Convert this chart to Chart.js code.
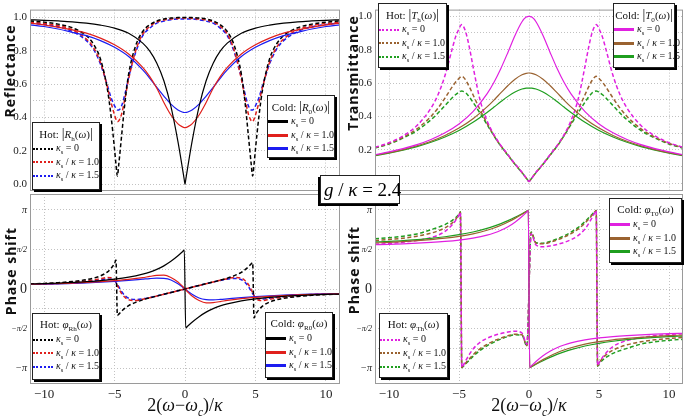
<!DOCTYPE html>
<html>
<head>
<meta charset="utf-8">
<script src="https://cdn.jsdelivr.net/npm/chart.js@4.4.0/dist/chart.umd.min.js"></script>
<style>
  body { margin: 0; background: #fff; }
  #wrap { position: relative; width: 685px; height: 417px; overflow: hidden; background: #fff; }
  #wrap canvas { position: absolute; left: 0; top: 0; }
  .ytitle { position: absolute; font-family: 'Open Sans', sans-serif; font-weight: bold; font-size: 14px;
            letter-spacing: 1px; color: #111; white-space: nowrap; transform: translate(-50%, -50%) rotate(-90deg); }
  .xtitle { position: absolute; font-family: 'Liberation Serif', serif; font-size: 18px; color: #111;
            white-space: nowrap; transform: translate(-50%, -50%); }
  .leg { position: absolute; box-sizing: border-box; background: #fff; border: 1px solid #222;
         box-shadow: 2px 2px 0 #000; font-family: 'Liberation Serif', serif; font-size: 10px; color: #111; }
  .leg .t { text-align: center; font-size: 11px; height: 17px; line-height: 17px; margin-top: 2px; white-space: nowrap; }
  .leg .t .bar { font-size: 14px; font-weight: 300; }
  .leg .r { display: flex; align-items: center; height: 13.5px; white-space: nowrap; }
  .leg .s { width: 20px; height: 0; border-top: 3px solid; margin-right: 3px; flex: none; }
  .leg .s.dot { border-top: 2.5px dotted; }
  .leg sub, .gbox sub, .xtitle sub { font-size: 65%; }
  .gbox { position: absolute; left: 320px; top: 175px; width: 80px; height: 29px; box-sizing: border-box;
          background: #fff; border: 1px solid #222; box-shadow: -2px 2px 0 #000;
          font-family: 'Liberation Serif', serif; font-size: 19px; line-height: 27px; padding-left: 3px; white-space: nowrap; }
</style>
</head>
<body>
<div id="wrap">
  <canvas id="cTL" width="685" height="417"></canvas>
  <canvas id="cTR" width="685" height="417"></canvas>
  <canvas id="cBL" width="685" height="417"></canvas>
  <canvas id="cBR" width="685" height="417"></canvas>

  <div class="ytitle" style="left:9px;top:71px">Reflectance</div>
  <div class="ytitle" style="left:352px;top:73px">Transmittance</div>
  <div class="ytitle" style="left:10px;top:271px">Phase shift</div>
  <div class="ytitle" style="left:353px;top:270px">Phase shift</div>
  <div class="xtitle" style="left:185px;top:407px">2(<i>ω</i>−<i>ω</i><sub><i>c</i></sub>)/<i>κ</i></div>
  <div class="xtitle" style="left:529px;top:407px">2(<i>ω</i>−<i>ω</i><sub><i>c</i></sub>)/<i>κ</i></div>
  <div class="gbox"><i>g</i> / <i>κ</i> = 2.4</div>
</div>

<script>
// x grids (shared by the curves of one family)
const X_COLD = [-11,-10,-9,-8,-7,-6,-5,-4,-3,-2.5,-2,-1.5,-1,-0.5,-0.2,-0.05,0,0.05,0.2,0.5,1,1.5,2,2.5,3,4,5,6,7,8,9,10,11];
const X_HOT = [-11,-10,-9,-8,-7,-6.5,-6,-5.5,-5.25,-5,-4.9,-4.8,-4.7,-4.5,-4.25,-4,-3.5,-3,-2.5,-2,-1.5,-1,-0.5,-0.15,0,
               0.15,0.5,1,1.5,2,2.5,3,3.5,4,4.25,4.5,4.7,4.8,4.9,5,5.25,5.5,6,6.5,7,8,9,10,11];

// Reflectance, cold |R0|
const R0_K0  = [0.985,0.982,0.978,0.973,0.965,0.953,0.935,0.904,0.845,0.797,0.725,0.62,0.466,0.255,0.105,0.026,0,0.026,0.105,0.255,0.466,0.62,0.725,0.797,0.845,0.904,0.935,0.953,0.965,0.973,0.978,0.982,0.985];
const R0_K10 = [0.965,0.955,0.94,0.925,0.905,0.875,0.835,0.78,0.70,0.645,0.575,0.49,0.415,0.362,0.345,0.34,0.34,0.34,0.345,0.362,0.415,0.49,0.575,0.645,0.70,0.78,0.835,0.875,0.905,0.925,0.94,0.955,0.965];
const R0_K15 = [0.955,0.945,0.93,0.91,0.89,0.86,0.82,0.765,0.685,0.635,0.58,0.528,0.48,0.445,0.433,0.43,0.43,0.43,0.433,0.445,0.48,0.528,0.58,0.635,0.685,0.765,0.82,0.86,0.89,0.91,0.93,0.945,0.955];
// Reflectance, hot |Rh|
const RH_K0  = [0.978,0.971,0.959,0.937,0.89,0.84,0.75,0.565,0.41,0.21,0.12,0.05,0.12,0.29,0.5,0.66,0.83,0.915,0.955,0.978,0.99,0.995,0.998,0.999,0.999,
                0.999,0.998,0.995,0.99,0.978,0.955,0.915,0.83,0.66,0.5,0.29,0.12,0.05,0.12,0.21,0.41,0.565,0.75,0.84,0.89,0.937,0.959,0.971,0.978];
const RH_K10 = [0.97,0.963,0.95,0.925,0.87,0.82,0.73,0.58,0.49,0.415,0.39,0.375,0.38,0.42,0.52,0.63,0.8,0.9,0.945,0.972,0.983,0.99,0.993,0.995,0.995,
                0.995,0.993,0.99,0.983,0.972,0.945,0.9,0.8,0.63,0.52,0.42,0.38,0.375,0.39,0.415,0.49,0.58,0.73,0.82,0.87,0.925,0.95,0.963,0.97];
const RH_K15 = [0.965,0.957,0.943,0.915,0.86,0.81,0.72,0.59,0.52,0.47,0.455,0.445,0.445,0.47,0.545,0.64,0.79,0.89,0.935,0.965,0.977,0.985,0.99,0.99,0.99,
                0.99,0.99,0.985,0.977,0.965,0.935,0.89,0.79,0.64,0.545,0.47,0.445,0.445,0.455,0.47,0.52,0.59,0.72,0.81,0.86,0.915,0.943,0.957,0.965];

// Transmittance, cold |T0|
const T0_K0  = [0.17,0.187,0.207,0.231,0.262,0.302,0.355,0.429,0.535,0.605,0.689,0.785,0.885,0.967,0.995,0.999,1,0.999,0.995,0.967,0.885,0.785,0.689,0.605,0.535,0.429,0.355,0.302,0.262,0.231,0.207,0.187,0.17];
const T0_K10 = [0.167,0.183,0.201,0.224,0.251,0.286,0.33,0.386,0.457,0.498,0.542,0.585,0.623,0.65,0.658,0.66,0.66,0.66,0.658,0.65,0.623,0.585,0.542,0.498,0.457,0.386,0.33,0.286,0.251,0.224,0.201,0.183,0.167];
const T0_K15 = [0.165,0.18,0.198,0.219,0.245,0.277,0.316,0.365,0.424,0.456,0.489,0.52,0.546,0.564,0.569,0.57,0.57,0.57,0.569,0.564,0.546,0.52,0.489,0.456,0.424,0.365,0.316,0.277,0.245,0.219,0.198,0.18,0.165];
// Transmittance, hot |Th|
const TH_K0  = [0.215,0.242,0.283,0.345,0.45,0.53,0.645,0.8,0.875,0.925,0.942,0.95,0.942,0.9,0.81,0.7,0.5,0.375,0.29,0.225,0.17,0.115,0.065,0.025,0.01,
                0.025,0.065,0.115,0.17,0.225,0.29,0.375,0.5,0.7,0.81,0.9,0.942,0.95,0.942,0.925,0.875,0.8,0.645,0.53,0.45,0.345,0.283,0.242,0.215];
const TH_K10 = [0.212,0.238,0.275,0.325,0.4,0.45,0.51,0.575,0.605,0.628,0.636,0.64,0.636,0.615,0.575,0.53,0.44,0.36,0.285,0.222,0.168,0.114,0.064,0.025,0.01,
                0.025,0.064,0.114,0.168,0.222,0.285,0.36,0.44,0.53,0.575,0.615,0.636,0.64,0.636,0.628,0.605,0.575,0.51,0.45,0.4,0.325,0.275,0.238,0.212];
const TH_K15 = [0.21,0.235,0.27,0.315,0.38,0.42,0.465,0.51,0.53,0.545,0.55,0.552,0.55,0.54,0.515,0.485,0.42,0.352,0.283,0.221,0.167,0.113,0.063,0.025,0.01,
                0.025,0.063,0.113,0.167,0.221,0.283,0.352,0.42,0.485,0.515,0.54,0.55,0.552,0.55,0.545,0.53,0.51,0.465,0.42,0.38,0.315,0.27,0.235,0.21];

// Reflection phase (rad), cold
const PR0_K0  = [0.2,0.215,0.235,0.26,0.29,0.335,0.39,0.47,0.59,0.67,0.78,0.92,1.1,1.32,1.47,1.545,null,-1.545,-1.47,-1.32,-1.1,-0.92,-0.78,-0.67,-0.59,-0.47,-0.39,-0.335,-0.29,-0.26,-0.235,-0.215,-0.2];
const PR0_K10 = [0.19,0.2,0.215,0.235,0.26,0.29,0.33,0.38,0.45,0.5,0.54,0.55,0.46,0.28,0.12,0.03,0,-0.03,-0.12,-0.28,-0.46,-0.55,-0.54,-0.5,-0.45,-0.38,-0.33,-0.29,-0.26,-0.235,-0.215,-0.2,-0.19];
const PR0_K15 = [0.18,0.19,0.2,0.22,0.24,0.27,0.3,0.34,0.39,0.415,0.43,0.42,0.36,0.21,0.09,0.022,0,-0.022,-0.09,-0.21,-0.36,-0.42,-0.43,-0.415,-0.39,-0.34,-0.3,-0.27,-0.24,-0.22,-0.2,-0.19,-0.18];
// Reflection phase (rad), hot
const PRH_K0  = [0.2,0.22,0.25,0.3,0.37,0.43,0.52,0.68,0.82,1.02,1.15,-1.05,-1.0,-0.88,-0.76,-0.66,-0.53,-0.43,-0.35,-0.28,-0.21,-0.14,-0.07,-0.02,0,
                 0.02,0.07,0.14,0.21,0.28,0.35,0.43,0.53,0.66,0.76,0.88,1.0,1.05,-1.15,-1.02,-0.82,-0.68,-0.52,-0.43,-0.37,-0.3,-0.25,-0.22,-0.2];
const PRH_K10 = [0.19,0.21,0.23,0.27,0.32,0.36,0.41,0.46,0.45,0.36,0.27,0.15,0.03,-0.18,-0.34,-0.43,-0.46,-0.41,-0.35,-0.28,-0.21,-0.14,-0.07,-0.02,0,
                 0.02,0.07,0.14,0.21,0.28,0.35,0.41,0.46,0.43,0.34,0.18,-0.03,-0.15,-0.27,-0.36,-0.45,-0.46,-0.41,-0.36,-0.32,-0.27,-0.23,-0.21,-0.19];
const PRH_K15 = [0.185,0.2,0.22,0.255,0.3,0.33,0.37,0.4,0.39,0.33,0.26,0.18,0.09,-0.1,-0.27,-0.37,-0.42,-0.39,-0.34,-0.28,-0.21,-0.14,-0.07,-0.02,0,
                 0.02,0.07,0.14,0.21,0.28,0.34,0.39,0.42,0.37,0.27,0.1,-0.09,-0.18,-0.26,-0.33,-0.39,-0.4,-0.37,-0.33,-0.3,-0.255,-0.22,-0.2,-0.185];

// Transmission phase (rad), cold
const PT0_K0  = [1.76,1.775,1.795,1.82,1.85,1.89,1.945,2.025,2.14,2.225,2.335,2.475,2.656,2.884,3.037,3.115,null,-3.115,-3.037,-2.884,-2.656,-2.475,-2.335,-2.225,-2.14,-2.025,-1.945,-1.89,-1.85,-1.82,-1.795,-1.775,-1.76];
const PT0_K10 = [1.83,1.855,1.885,1.92,1.965,2.02,2.095,2.195,2.336,2.427,2.535,2.662,2.808,2.97,3.072,3.124,null,-3.124,-3.072,-2.97,-2.808,-2.662,-2.535,-2.427,-2.336,-2.195,-2.095,-2.02,-1.965,-1.92,-1.885,-1.855,-1.83];
const PT0_K15 = [1.87,1.895,1.925,1.966,2.015,2.078,2.159,2.265,2.409,2.498,2.601,2.719,2.85,2.993,3.082,3.127,null,-3.127,-3.082,-2.993,-2.85,-2.719,-2.601,-2.498,-2.409,-2.265,-2.159,-2.078,-2.015,-1.966,-1.925,-1.895,-1.87];
// Transmission phase (rad), hot
const PTH_K0  = [1.78,1.81,1.86,1.93,2.045,2.14,2.29,2.54,2.72,2.94,3.05,-3.12,-3.04,-2.83,-2.59,-2.39,-2.12,-1.96,-1.85,-1.77,-1.71,-1.68,-1.75,-2.2,null,
                 2.2,1.75,1.68,1.71,1.77,1.85,1.96,2.12,2.39,2.59,2.83,3.04,3.12,-3.05,-2.94,-2.72,-2.54,-2.29,-2.14,-2.045,-1.93,-1.86,-1.81,-1.78];
const PTH_K10 = [1.93,1.97,2.02,2.1,2.22,2.31,2.43,2.62,2.76,2.95,3.05,-3.12,-3.07,-2.93,-2.77,-2.62,-2.38,-2.2,-2.06,-1.95,-1.86,-1.8,-1.82,-2.25,null,
                 2.25,1.82,1.8,1.86,1.95,2.06,2.2,2.38,2.62,2.77,2.93,3.07,3.12,-3.05,-2.95,-2.76,-2.62,-2.43,-2.31,-2.22,-2.1,-2.02,-1.97,-1.93];
const PTH_K15 = [2.0,2.04,2.1,2.19,2.36,2.45,2.56,2.72,2.83,2.98,3.07,-3.12,-3.08,-2.96,-2.82,-2.68,-2.44,-2.26,-2.11,-1.99,-1.89,-1.82,-1.84,-2.27,null,
                 2.27,1.84,1.82,1.89,1.99,2.11,2.26,2.44,2.68,2.82,2.96,3.08,3.12,-3.07,-2.98,-2.83,-2.72,-2.56,-2.45,-2.36,-2.19,-2.1,-2.04,-2.0];

// tick positions and labels
const X_TICKS = [-10, -5, 0, 5, 10];
const MAG_TICKS = [0, 0.1, 0.2, 0.3, 0.4, 0.5, 0.6, 0.7, 0.8, 0.9, 1.0];
const MAG_LABELS = ['0.0', '', '0.2', '', '0.4', '', '0.6', '', '0.8', '', '1.0'];
const PHASE_TICKS = [-3.1416, -2.3562, -1.5708, -0.7854, 0, 0.7854, 1.5708, 2.3562, 3.1416];
const PHASE_LABELS = ['−π', '', '−π/2', '', '0', '', 'π/2', '', 'π'];
const SERIES_NAMES = ['<i>κ</i><sub>s</sub> = 0', '<i>κ</i><sub>s</sub> / <i>κ</i> = 1.0', '<i>κ</i><sub>s</sub> / <i>κ</i> = 1.5'];

const C = {
  black: '#000000', red: '#e0201c', blue: '#1c1cf0',
  magenta: '#e020e0', brown: '#9a6230', green: '#1f9e1f'
};

const pts = (xs, ys) => xs.map((x, i) => ({ x: x, y: ys[i] }));

function cold(xs, ys, color) {
  return { data: pts(xs, ys), borderColor: color, borderWidth: 1.2, spanGaps: true };
}
function hot(xs, ys, color) {
  return { data: pts(xs, ys), borderColor: color, borderWidth: 1.5, borderDash: [4, 2.5], spanGaps: true };
}

// gray frame around the plot area
const framePlugin = {
  id: 'frame',
  afterDraw(chart) {
    const { ctx, chartArea: a } = chart;
    ctx.save();
    ctx.strokeStyle = '#9a9a9a';
    ctx.lineWidth = 1;
    ctx.strokeRect(a.left + 0.5, a.top + 0.5, a.right - a.left - 1, a.bottom - a.top - 1);
    ctx.restore();
  }
};

function tickFont(isPhase) {
  return (ctx) => {
    if (!isPhase) return { family: 'Liberation Serif', size: 11 };
    const v = ctx.tick ? ctx.tick.value : 0;
    if (v === 0) return { family: 'Liberation Serif', size: 14 };
    if (Math.abs(Math.abs(v) - 1.5708) < 0.01) return { family: 'Liberation Serif', size: 8, style: 'italic' };
    return { family: 'Liberation Serif', size: 10, style: 'italic' };
  };
}

function makePanel(id, box, ymin, ymax, isPhase, showX, datasets) {
  const axisW = 30;
  const xH = showX ? 20 : 0;
  const yTicks = isPhase ? PHASE_TICKS : MAG_TICKS;
  const yLabels = isPhase ? PHASE_LABELS : MAG_LABELS;
  const gridCol = '#c2c2c2';
  new Chart(document.getElementById(id), {
    type: 'line',
    data: { datasets: datasets },
    options: {
      responsive: false,
      animation: false,
      devicePixelRatio: 1,
      layout: { padding: { left: box.left - axisW, top: box.top, right: 685 - box.right, bottom: 417 - box.bottom - xH } },
      elements: { point: { radius: 0 }, line: { cubicInterpolationMode: 'monotone', fill: false } },
      plugins: { legend: { display: false }, tooltip: { enabled: false } },
      scales: {
        x: {
          type: 'linear', min: -11, max: 11,
          afterFit: (s) => { s.height = xH; },
          afterBuildTicks: (s) => { s.ticks = X_TICKS.map(v => ({ value: v })); },
          ticks: {
            display: showX, autoSkip: false, maxRotation: 0, padding: 3, color: '#222',
            font: { family: 'Liberation Serif', size: 13 },
            callback: (v) => (v < 0 ? '−' + (-v) : '' + v)
          },
          grid: { color: gridCol, lineWidth: 1, drawTicks: false },
          border: { display: false, dash: [1, 2] }
        },
        y: {
          type: 'linear', min: ymin, max: ymax,
          afterFit: (s) => { s.width = axisW; },
          afterBuildTicks: (s) => { s.ticks = yTicks.map(v => ({ value: v })); },
          ticks: {
            autoSkip: false, padding: 3, color: '#222',
            font: tickFont(isPhase),
            callback: (v, i) => yLabels[i]
          },
          grid: { color: gridCol, lineWidth: 1, drawTicks: false },
          border: { display: false, dash: [1, 2] }
        }
      }
    },
    plugins: [framePlugin]
  });
}

makePanel('cTL', { left: 30, top: 2, right: 340, bottom: 191 }, -0.04, 1.046, false, false, [
  cold(X_COLD, R0_K0, C.black), cold(X_COLD, R0_K10, C.red), cold(X_COLD, R0_K15, C.blue),
  hot(X_HOT, RH_K0, C.black), hot(X_HOT, RH_K10, C.red), hot(X_HOT, RH_K15, C.blue)
]);
makePanel('cTR', { left: 375, top: 2, right: 683, bottom: 191 }, -0.047, 1.04, false, false, [
  cold(X_COLD, T0_K0, C.magenta), cold(X_COLD, T0_K10, C.brown), cold(X_COLD, T0_K15, C.green),
  hot(X_HOT, TH_K0, C.magenta), hot(X_HOT, TH_K10, C.brown), hot(X_HOT, TH_K15, C.green)
]);
makePanel('cBL', { left: 30, top: 194, right: 340, bottom: 384 }, -3.777, 3.777, true, true, [
  cold(X_COLD, PR0_K0, C.black), cold(X_COLD, PR0_K10, C.red), cold(X_COLD, PR0_K15, C.blue),
  hot(X_HOT, PRH_K0, C.black), hot(X_HOT, PRH_K10, C.red), hot(X_HOT, PRH_K15, C.blue)
]);
makePanel('cBR', { left: 375, top: 194, right: 683, bottom: 384 }, -3.777, 3.777, true, true, [
  cold(X_COLD, PT0_K0, C.magenta), cold(X_COLD, PT0_K10, C.brown), cold(X_COLD, PT0_K15, C.green),
  hot(X_HOT, PTH_K0, C.magenta), hot(X_HOT, PTH_K10, C.brown), hot(X_HOT, PTH_K15, C.green)
]);

// legend boxes
const LEGENDS = [
  { x: 32, y: 122, w: 68, h: 68, title: 'Hot: <span class="bar">|</span><i>R</i><sub>h</sub>(<i>ω</i>)<span class="bar">|</span>', colors: [C.black, C.red, C.blue], dot: true },
  { x: 267, y: 95, w: 68, h: 63, title: 'Cold: <span class="bar">|</span><i>R</i><sub>0</sub>(<i>ω</i>)<span class="bar">|</span>', colors: [C.black, C.red, C.blue], dot: false },
  { x: 378, y: 3, w: 69, h: 65, title: 'Hot: <span class="bar">|</span><i>T</i><sub>h</sub>(<i>ω</i>)<span class="bar">|</span>', colors: [C.magenta, C.brown, C.green], dot: true },
  { x: 613, y: 3, w: 62, h: 65, title: 'Cold: <span class="bar">|</span><i>T</i><sub>0</sub>(<i>ω</i>)<span class="bar">|</span>', colors: [C.magenta, C.brown, C.green], dot: false },
  { x: 32, y: 313, w: 68, h: 67, title: 'Hot: <i>φ</i><sub>Rh</sub>(<i>ω</i>)', colors: [C.black, C.red, C.blue], dot: true },
  { x: 265, y: 312, w: 68, h: 66, title: 'Cold: <i>φ</i><sub>R0</sub>(<i>ω</i>)', colors: [C.black, C.red, C.blue], dot: false },
  { x: 609, y: 198, w: 73, h: 65, title: 'Cold: <i>φ</i><sub>T0</sub>(<i>ω</i>)', colors: [C.magenta, C.brown, C.green], dot: false },
  { x: 379, y: 313, w: 69, h: 65, title: 'Hot: <i>φ</i><sub>Th</sub>(<i>ω</i>)', colors: [C.magenta, C.brown, C.green], dot: true }
];

const wrap = document.getElementById('wrap');
LEGENDS.forEach(l => {
  const d = document.createElement('div');
  d.className = 'leg';
  d.style.left = l.x + 'px';
  d.style.top = l.y + 'px';
  d.style.width = l.w + 'px';
  d.style.height = l.h + 'px';
  let html = '<div class="t">' + l.title + '</div>';
  SERIES_NAMES.forEach((name, i) => {
    html += '<div class="r"><span class="s' + (l.dot ? ' dot' : '') + '" style="border-top-color:' + l.colors[i] + '"></span>' +
            '<span>' + name + '</span></div>';
  });
  d.innerHTML = html;
  wrap.appendChild(d);
});
</script>
</body>
</html>
